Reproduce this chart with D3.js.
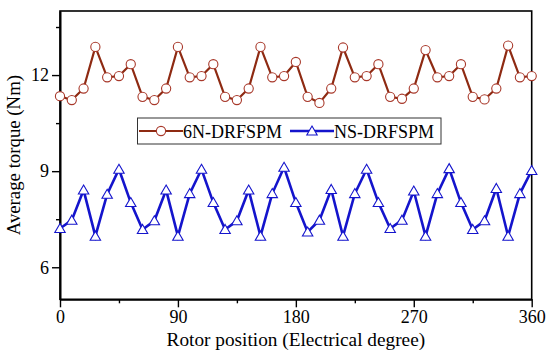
<!DOCTYPE html>
<html>
<head>
<meta charset="utf-8">
<script src="https://cdn.jsdelivr.net/npm/d3@7"></script>
<style>
  html, body { margin: 0; padding: 0; background: #fff; }
  svg { display: block; }
  text { font-family: "Liberation Serif", "Times New Roman", serif; }
</style>
</head>
<body>
<svg id="graph"></svg>
<script>
// rotor position, electrical degrees
const positions = [0, 9, 18, 27, 36, 45, 54, 63, 72, 81, 90, 99, 108, 117, 126, 135, 144,
		   153, 162, 171, 180, 189, 198, 207, 216, 225, 234, 243, 252, 261, 270, 279,
		   288, 297, 306, 315, 324, 333, 342, 351, 360];

const torque6N = [11.34, 11.22, 11.58, 12.88, 11.93, 11.97, 12.34, 11.32, 11.22, 11.58, 12.88,
		  11.93, 11.97, 12.34, 11.32, 11.22, 11.58, 12.88, 11.93, 11.97, 12.41, 11.32,
		  11.13, 11.58, 12.86, 11.93, 11.97, 12.34, 11.32, 11.26, 11.58, 12.78, 11.93,
		  11.97, 12.34, 11.32, 11.24, 11.58, 12.92, 11.93, 11.97];

const torqueNS = [7.21, 7.47, 8.41, 6.97, 8.28, 9.06, 8.02, 7.18, 7.45, 8.41, 6.97,
		  8.30, 9.06, 8.02, 7.18, 7.45, 8.41, 6.97, 8.30, 9.12, 8.02, 7.10,
		  7.47, 8.43, 6.97, 8.30, 9.06, 8.02, 7.21, 7.47, 8.38, 6.97, 8.30,
		  9.08, 8.02, 7.18, 7.45, 8.46, 6.97, 8.30, 9.02];

const seriesNames = ["6N-DRFSPM", "NS-DRFSPM"];
const xMajor = [0, 90, 180, 270, 360];
const xMinor = [45, 135, 225, 315];
const yMajor = [6, 9, 12];
const yMinor = [7.5, 10.5, 13.5];

const WIDTH = 550;
const HEIGHT = 356;
const margin = {top: 11, right: 18.3, bottom: 56.7, left: 60};
const FONT = "Liberation Serif, Times New Roman, serif";

const RED_LINE = "#8e2a12";
const RED_MARK = "#a8382a";
const BLUE = "#1414cc";

let svg = d3.select("#graph")
    .attr("width", WIDTH)
    .attr("height", HEIGHT)
    .attr("font-family", FONT);

const x = d3.scaleLinear()
      .domain([0, 360])
      .range([margin.left, WIDTH - margin.right]);
const y = d3.scaleLinear()
      .domain([5, 14])
      .range([HEIGHT - margin.bottom, margin.top]);

// frame
svg.append("rect")
    .attr("x", x(0)).attr("y", y(14))
    .attr("width", x(360) - x(0))
    .attr("height", y(5) - y(14))
    .attr("fill", "none")
    .attr("stroke", "#000")
    .attr("stroke-width", 1.6);

// axes
svg.append("g")
    .attr("transform", `translate(0,${y(5)})`)
    .call(d3.axisBottom(x).tickValues(xMajor).tickSize(8).tickSizeOuter(0).tickPadding(3));
svg.append("g")
    .attr("transform", `translate(0,${y(5)})`)
    .call(d3.axisBottom(x).tickValues(xMinor).tickSize(4).tickFormat("").tickSizeOuter(0));

svg.append("g")
    .attr("transform", `translate(${x(0)},0)`)
    .call(d3.axisLeft(y).tickValues(yMajor).tickSize(8).tickSizeOuter(0).tickPadding(3));
svg.append("g")
    .attr("transform", `translate(${x(0)},0)`)
    .call(d3.axisLeft(y).tickValues(yMinor).tickSize(4).tickFormat("").tickSizeOuter(0));

svg.selectAll("g").attr("font-family", FONT);
svg.selectAll(".domain").attr("stroke-width", 1.6);
svg.selectAll(".tick line").attr("stroke-width", 1.4);
svg.selectAll(".tick text")
    .attr("font-size", 18)
    .attr("fill", "#000");

// axis titles
svg.append("text")
    .attr("x", (x(0) + x(360)) / 2)
    .attr("y", 346)
    .attr("text-anchor", "middle")
    .attr("font-size", 19.3)
    .text("Rotor position (Electrical degree)");

svg.append("text")
    .attr("transform", `translate(20,${(y(5) + y(14)) / 2}) rotate(-90)`)
    .attr("text-anchor", "middle")
    .attr("font-size", 18.8)
    .text("Average torque (Nm)");

const line = d3.line()
      .x((d, i) => x(positions[i]))
      .y(d => y(d));

const triPath = "M0,-5L5.2,4L-5.2,4Z";

// 6N series
svg.append("path")
    .datum(torque6N)
    .attr("fill", "none")
    .attr("stroke", RED_LINE)
    .attr("stroke-width", 2.2)
    .attr("d", line);
svg.append("g")
    .selectAll("circle")
    .data(torque6N)
    .join("circle")
    .attr("cx", (d, i) => x(positions[i]))
    .attr("cy", d => y(d))
    .attr("r", 4.6)
    .attr("fill", "#fff")
    .attr("stroke", RED_MARK)
    .attr("stroke-width", 1.1);

// NS series
svg.append("path")
    .datum(torqueNS)
    .attr("fill", "none")
    .attr("stroke", BLUE)
    .attr("stroke-width", 2.6)
    .attr("d", line);
svg.append("g")
    .selectAll("path")
    .data(torqueNS)
    .join("path")
    .attr("d", triPath)
    .attr("transform", (d, i) => `translate(${x(positions[i])},${y(d)})`)
    .attr("fill", "#fff")
    .attr("stroke", BLUE)
    .attr("stroke-width", 1.1);

// legend
const legend = svg.append("g");
legend.append("rect")
    .attr("x", 137.5).attr("y", 118)
    .attr("width", 303.5).attr("height", 26)
    .attr("fill", "#fff")
    .attr("stroke", "#333")
    .attr("stroke-width", 1);

const legendItems = [
    {name: seriesNames[0], x0: 139, x1: 183, color: RED_LINE, mark: RED_MARK, shape: "circle", w: 2.2},
    {name: seriesNames[1], x0: 290, x1: 334, color: BLUE, mark: BLUE, shape: "tri", w: 2.6}
];
legendItems.forEach(it => {
    legend.append("line")
	.attr("x1", it.x0).attr("x2", it.x1)
	.attr("y1", 131).attr("y2", 131)
	.attr("stroke", it.color)
	.attr("stroke-width", it.w);
    const cx = (it.x0 + it.x1) / 2;
    if (it.shape == "circle") {
	legend.append("circle")
	    .attr("cx", cx).attr("cy", 131).attr("r", 4.6)
	    .attr("fill", "#fff").attr("stroke", it.mark).attr("stroke-width", 1.1);
    } else {
	legend.append("path")
	    .attr("d", triPath)
	    .attr("transform", `translate(${cx},131)`)
	    .attr("fill", "#fff").attr("stroke", it.mark).attr("stroke-width", 1.1);
    }
    legend.append("text")
	.attr("x", it.x1)
	.attr("y", 137.5)
	.attr("font-size", 18)
	.text(it.name);
});
</script>
</body>
</html>
